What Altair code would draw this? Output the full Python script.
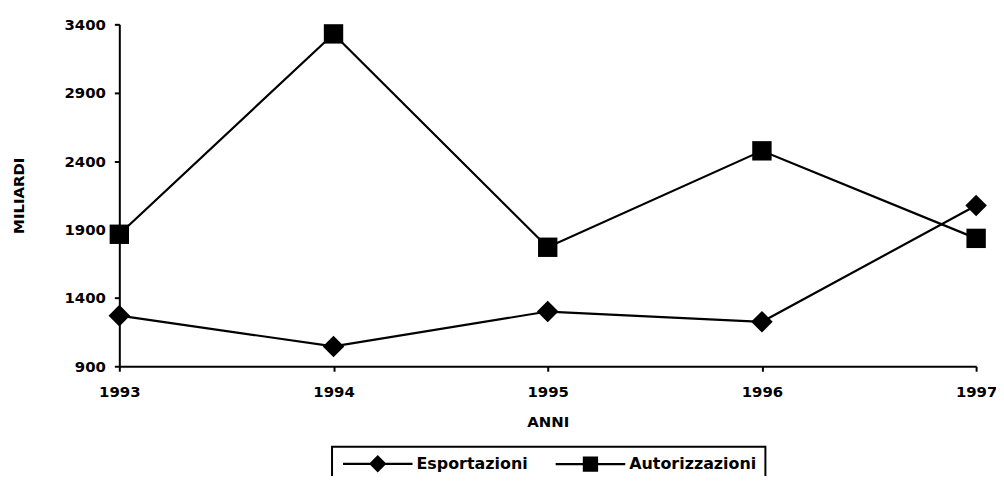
import altair as alt
import pandas as pd

years = [1993, 1994, 1995, 1996, 1997]
series_names = ["Esportazioni", "Autorizzazioni"]
esportazioni = [1270, 1045, 1300, 1225, 2075]
autorizzazioni = [1865, 3330, 1770, 2475, 1835]
y_ticks = [900, 1400, 1900, 2400, 2900, 3400]

rows = []
for name, vals in zip(series_names, [esportazioni, autorizzazioni]):
    for yr, v in zip(years, vals):
        rows.append({"anno": yr, "serie": name, "valore": v})
df = pd.DataFrame(rows)

FONT = "DejaVu Sans"

x_enc = alt.X(
    "anno:Q",
    scale=alt.Scale(domain=[1993, 1997], nice=False, zero=False),
    axis=alt.Axis(
        values=years, format="d", title="ANNI", labelFlush=False,
        labelOverlap=False, tickSize=5, labelPadding=13, titlePadding=16,
    ),
)
y_enc = alt.Y(
    "valore:Q",
    scale=alt.Scale(domain=[900, 3400], nice=False, zero=False),
    axis=alt.Axis(values=y_ticks, format="d", title="MILIARDI", tickSize=5,
                  labelPadding=9, titlePadding=38),
)

base = alt.Chart(df)

lines = base.mark_line(color="black", strokeWidth=2.2).encode(
    x=x_enc, y=y_enc, detail="serie:N"
)

points = base.mark_point(filled=True, color="black", opacity=1).encode(
    x=x_enc,
    y=y_enc,
    shape=alt.Shape("serie:N", scale=alt.Scale(domain=series_names, range=["diamond", "square"]), legend=None),
    size=alt.Size("serie:N", scale=alt.Scale(domain=series_names, range=[470, 380]), legend=None),
)

# symbol drawn at 7 px per unit (symbolSize 196 -> 14 px box); line as thin filled bar
p_diamond = "M-5,-0.16H5V0.16H-5ZM0,-1.25L1.25,0L0,1.25L-1.25,0Z"
p_square = "M-5,-0.16H5V0.16H-5ZM-1.1,-1.1H1.1V1.1H-1.1Z"

legend_layer = base.mark_point(filled=True, color="black", opacity=0).encode(
    x=x_enc,
    y=y_enc,
    shape=alt.Shape(
        "serie:N",
        scale=alt.Scale(domain=series_names, range=[p_diamond, p_square]),
        legend=alt.Legend(
            title=None, orient="none", legendX=214, legendY=425,
            direction="horizontal", columns=2, columnPadding=26,
            symbolSize=196, symbolOpacity=1, symbolFillColor="black",
            symbolStrokeColor="black", symbolStrokeWidth=0, symbolOffset=29,
            labelFont=FONT, labelFontWeight="bold", labelFontSize=16,
            labelColor="black", labelOffset=31, labelLimit=400,
            strokeColor="black", padding=9,
        ),
    ),
)

chart = (
    alt.layer(lines, points, legend_layer)
    .resolve_scale(shape="independent", size="independent")
    .properties(
        width=862, height=344,
        autosize=alt.AutoSizeParams(type="none"),
        padding={"left": 112, "top": 15, "right": 20, "bottom": 109},
    )
    .configure_view(stroke=None)
    .configure_legend(strokeWidth=2)
    .configure_axis(
        grid=False, domainColor="black", domainWidth=2, tickColor="black",
        tickWidth=2, labelFont=FONT, labelFontWeight="bold", labelFontSize=15,
        labelColor="black", titleFont=FONT, titleFontWeight="bold",
        titleFontSize=15, titleColor="black",
    )
)

chart.save("out.html", embed_options={"renderer": "svg", "actions": False})
